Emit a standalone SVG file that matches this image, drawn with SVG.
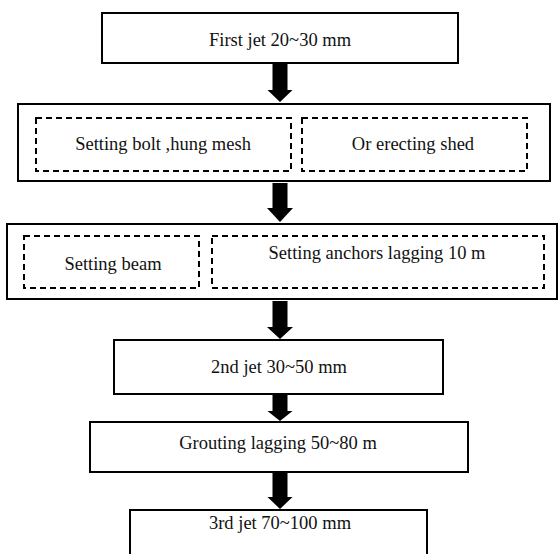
<svg xmlns="http://www.w3.org/2000/svg" width="558" height="554" viewBox="0 0 558 554">
<style>
.box{fill:#fff;stroke:#000;stroke-width:2}
.dash{fill:none;stroke:#000;stroke-width:2;stroke-dasharray:6 4}
.t{font-family:"Liberation Serif","Times New Roman",serif;font-size:18.5px;fill:#111;text-anchor:middle}
.arr{fill:#000}
</style>
<defs>
<path id="arrow" d="M-7.5,0 H7.5 V-13 H12.5 L0,0 L-12.5,-13 H-7.5 Z"/>
</defs>
<rect width="558" height="554" fill="#fff"/>
<g id="connectors">
<path class="arr" d="M272.5,63 H287.5 V90 H292.5 L280,102 L267.5,90 H272.5 Z"/>
<path class="arr" d="M272.5,183 H287.5 V208 H293 L280,222 L267,208 H272.5 Z"/>
<path class="arr" d="M272.5,301 H287.5 V327 H293 L280,339 L267,327 H272.5 Z"/>
<path class="arr" d="M272.5,395 H287.5 V411 H292.5 L280,421 L267.5,411 H272.5 Z"/>
<path class="arr" d="M272.5,473 H287.5 V497 H292.5 L280,509 L267.5,497 H272.5 Z"/>
</g>
<g id="n1">
<rect class="box" x="102" y="13" width="356" height="50"/>
<text class="t" x="280" y="46">First jet 20~30 mm</text>
</g>
<g id="n2">
<rect class="box" x="18" y="104" width="532" height="77"/>
<g id="n2a">
<rect class="dash" x="36" y="118" width="255" height="53"/>
<text class="t" x="163" y="150">Setting bolt ,hung mesh</text>
</g>
<g id="n2b">
<rect class="dash" x="302" y="118" width="225" height="53"/>
<text class="t" x="413" y="150">Or erecting shed</text>
</g>
</g>
<g id="n3">
<rect class="box" x="7" y="224" width="550" height="75"/>
<g id="n3a">
<rect class="dash" x="24" y="236" width="175" height="52"/>
<text class="t" x="113" y="270">Setting beam</text>
</g>
<g id="n3b">
<rect class="dash" x="212" y="236" width="332" height="52"/>
<text class="t" x="377" y="259">Setting anchors lagging 10 m</text>
</g>
</g>
<g id="n4">
<rect class="box" x="114" y="340" width="329" height="54"/>
<text class="t" x="279" y="373">2nd jet 30~50 mm</text>
</g>
<g id="n5">
<rect class="box" x="90" y="422" width="378" height="50"/>
<text class="t" x="278" y="449">Grouting lagging 50~80 m</text>
</g>
<g id="n6">
<rect class="box" x="130" y="510" width="297" height="60"/>
<text class="t" x="280" y="529">3rd jet 70~100 mm</text>
</g>
</svg>
